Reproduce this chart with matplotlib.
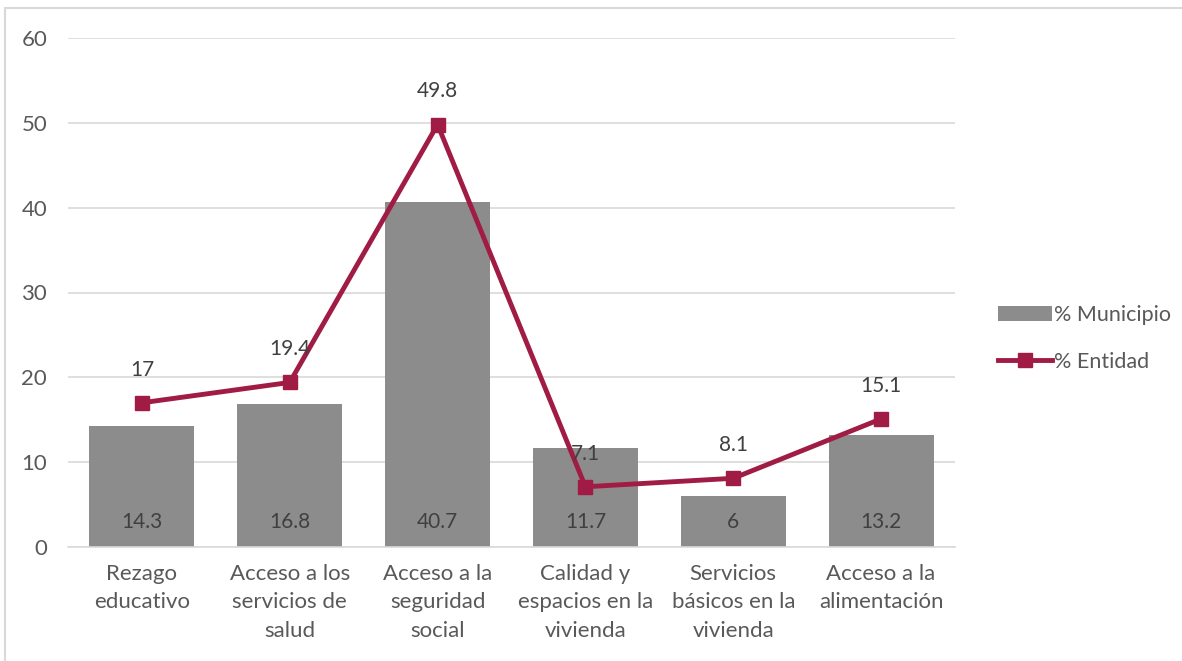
import matplotlib.pyplot as plt
from matplotlib.patches import Rectangle
import numpy as np

categories = ['Rezago\neducativo', 'Acceso a los\nservicios de\nsalud', 'Acceso a la\nseguridad\nsocial',
              'Calidad y\nespacios en la\nvivienda', 'Servicios\nbásicos en la\nvivienda', 'Acceso a la\nalimentación']
municipio = [14.3, 16.8, 40.7, 11.7, 6, 13.2]
entidad = [17, 19.4, 49.8, 7.1, 8.1, 15.1]
yticks = [0, 10, 20, 30, 40, 50, 60]

bar_color = '#8c8c8c'
line_color = '#a01c44'
text_color = '#595959'

plt.rcParams['font.family'] = ['Lato', 'DejaVu Sans']

fig = plt.figure(figsize=(11.82, 6.61), dpi=100)
W, H = 1182, 661
ax = fig.add_axes([68 / W, 1 - 547 / H, (955 - 68) / W, (547 - 38) / H])

x = np.arange(len(categories))
bars = ax.bar(x, municipio, width=0.71, color=bar_color, label='% Municipio', zorder=2)
line, = ax.plot(x, entidad, color=line_color, lw=3.5, marker='s', ms=10, label='% Entidad', zorder=3)

for i, v in enumerate(municipio):
    ax.text(i, 3, f'{v:g}', ha='center', va='center', fontsize=15, color='#404040', zorder=4)
for i, v in enumerate(entidad):
    ax.text(i, v + 3.9, f'{v:g}', ha='center', va='center', fontsize=15, color='#404040', zorder=4)

ax.set_xlim(-0.5, len(categories) - 0.5)
ax.set_ylim(0, 60)
ax.set_yticks(yticks)
ax.set_xticks(x)
ax.set_xticklabels(categories, fontsize=16, color=text_color, linespacing=1.55)
ax.tick_params(axis='y', labelsize=16, labelcolor=text_color, length=0, pad=15)
ax.tick_params(axis='x', length=0, pad=12)
ax.grid(axis='y', color='#d9d9d9', lw=1.2, zorder=0)
for s in ['top', 'right', 'left']:
    ax.spines[s].set_visible(False)
ax.spines['bottom'].set_color('#d9d9d9')
ax.spines['bottom'].set_linewidth(1.2)

leg = ax.legend([bars, line], ['% Municipio', '% Entidad'], loc='center left',
                bbox_to_anchor=(1.027, 0.41), frameon=False, fontsize=15.5,
                handlelength=2.5, handletextpad=0.1, labelspacing=1.25)
for t in leg.get_texts():
    t.set_color(text_color)

fig.patches.append(Rectangle((5 / W, -0.1), 1.1, 1.1 - 8 / H, transform=fig.transFigure,
                             fill=False, edgecolor='#d9d9d9', lw=1.5))

fig.savefig('out.png', dpi=100)
